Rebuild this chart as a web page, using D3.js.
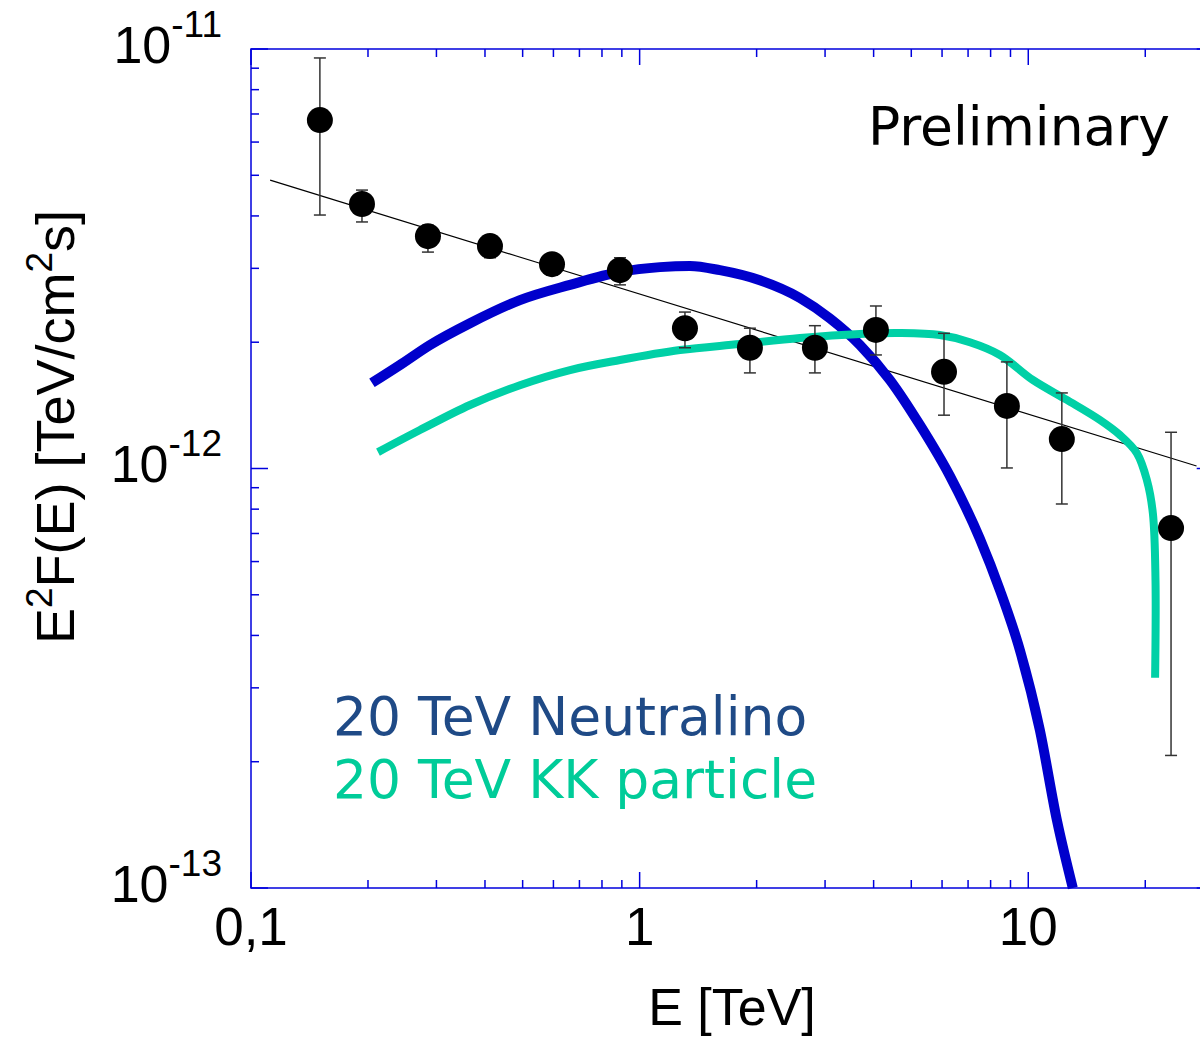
<!DOCTYPE html>
<html>
<head>
<meta charset="utf-8">
<script src="https://cdn.jsdelivr.net/npm/d3@7"></script>
<style>
  html, body { margin: 0; padding: 0; background: #fff; }
  svg { display: block; }
</style>
</head>
<body>
<svg id="chart" width="1200" height="1037"></svg>
<script>
// ---- Data ----
const pointE   = [0.1504, 0.193, 0.2853, 0.412, 0.595, 0.890, 1.308, 1.922, 2.825, 4.055, 6.07, 8.81, 12.2, 23.3];
const pointV   = [6.77e-12, 4.27e-12, 3.58e-12, 3.39e-12, 3.07e-12, 2.97e-12, 2.16e-12, 1.94e-12, 1.94e-12, 2.14e-12, 1.70e-12, 1.41e-12, 1.175e-12, 7.21e-13];
const pointHi  = [9.52e-12, 4.61e-12, 3.80e-12, 3.54e-12, 3.23e-12, 3.18e-12, 2.36e-12, 2.16e-12, 2.19e-12, 2.44e-12, 2.10e-12, 1.795e-12, 1.514e-12, 1.22e-12];
const pointLo  = [4.02e-12, 3.87e-12, 3.28e-12, 3.18e-12, 2.89e-12, 2.74e-12, 1.94e-12, 1.69e-12, 1.69e-12, 1.865e-12, 1.34e-12, 1.003e-12, 8.23e-13, 2.07e-13];

const fitE = [0.112, 27.1];
const fitV = [4.87e-12, 1.014e-12];

const neutralinoE = [0.2048, 0.2417, 0.2888, 0.366, 0.492, 0.662, 0.890, 1.128, 1.347, 1.609, 2.039, 2.585, 3.087, 3.688, 4.405, 5.262, 6.284, 7.507, 8.453, 9.515, 10.71, 11.85, 13.02];
const neutralinoV = [1.60e-12, 1.765e-12, 1.97e-12, 2.22e-12, 2.52e-12, 2.74e-12, 2.94e-12, 3.02e-12, 3.04e-12, 2.97e-12, 2.81e-12, 2.55e-12, 2.28e-12, 1.97e-12, 1.626e-12, 1.27e-12, 9.6e-13, 6.8e-13, 5.13e-13, 3.69e-13, 2.38e-13, 1.45e-13, 1.0e-13];

const kkE = [0.2122, 0.2721, 0.366, 0.492, 0.662, 0.890, 1.27, 1.811, 2.585, 3.688, 4.674, 5.925, 7.074, 8.453, 10.27, 12.57, 15.29, 17.21, 19.03, 20.19, 20.92, 21.25, 21.2];
const kkV = [1.094e-12, 1.235e-12, 1.417e-12, 1.58e-12, 1.717e-12, 1.814e-12, 1.916e-12, 1.98e-12, 2.047e-12, 2.093e-12, 2.104e-12, 2.08e-12, 2.00e-12, 1.865e-12, 1.626e-12, 1.457e-12, 1.305e-12, 1.202e-12, 1.088e-12, 9.39e-13, 7.83e-13, 5.42e-13, 3.17e-13];

const xTickValues = [0.1, 1, 10];
const xTickLabels = ["0,1", "1", "10"];
const yTickValues = [1e-11, 1e-12, 1e-13];
const yTickExps   = ["-11", "-12", "-13"];

const legendLabels = ["20 TeV Neutralino", "20 TeV KK particle"];
const annotation = "Preliminary";

// ---- Layout ----
const svg = d3.select("#chart");
const x = d3.scaleLog().domain([0.1, 30]).range([251, 1213.7]);
const y = d3.scaleLog().domain([1e-13, 1e-11]).range([888, 49]);

const frameColor = "#0000dd";
const axisFont = "'Liberation Sans', Arial, sans-serif";
const textFont = "'DejaVu Sans', Verdana, sans-serif";

// Frame
const [x0, x1] = x.range();
const [yb, yt] = y.range();
svg.append("rect")
  .attr("x", x0).attr("y", yt).attr("width", x1 - x0).attr("height", yb - yt)
  .attr("fill", "none").attr("stroke", frameColor).attr("stroke-width", 1.5);

// Ticks
const xMinor = [];
[0.1, 1, 10].forEach(d => { for (let k = 2; k <= 9; k++) { const v = d * k; if (v < 30) xMinor.push(v); } });
const yMinor = [];
[1e-13, 1e-12].forEach(d => { for (let k = 2; k <= 9; k++) yMinor.push(d * k); });

const tickG = svg.append("g").attr("stroke", frameColor).attr("stroke-width", 1.5);
function xt(v, len) {
  tickG.append("line").attr("x1", x(v)).attr("x2", x(v)).attr("y1", yb).attr("y2", yb - len);
  tickG.append("line").attr("x1", x(v)).attr("x2", x(v)).attr("y1", yt).attr("y2", yt + len);
}
function ytk(v, len) {
  tickG.append("line").attr("x1", x0).attr("x2", x0 + len).attr("y1", y(v)).attr("y2", y(v));
  tickG.append("line").attr("x1", x1).attr("x2", x1 - len).attr("y1", y(v)).attr("y2", y(v));
}
xMinor.forEach(v => xt(v, 8));
xTickValues.forEach(v => xt(v, 16));
yMinor.forEach(v => ytk(v, 8));
yTickValues.forEach(v => ytk(v, 17));

// X tick labels
svg.append("g").selectAll("text").data(xTickValues).join("text")
  .attr("x", d => x(d)).attr("y", 945)
  .attr("text-anchor", "middle")
  .attr("font-family", axisFont).attr("font-size", 53).attr("fill", "#000")
  .text((d, i) => xTickLabels[i]);

// Y tick labels: 10^exp
const yl = svg.append("g").selectAll("text").data(yTickValues).join("text")
  .attr("x", 222).attr("y", d => y(d) + 13.5)
  .attr("text-anchor", "end")
  .attr("font-family", axisFont).attr("font-size", 52).attr("fill", "#000");
yl.append("tspan").text("10");
yl.append("tspan").attr("dy", -26).attr("font-size", 37).text((d, i) => yTickExps[i]);

// Axis titles
svg.append("text")
  .attr("x", 732).attr("y", 1025)
  .attr("text-anchor", "middle")
  .attr("font-family", axisFont).attr("font-size", 52).attr("fill", "#000")
  .text("E [TeV]");

const yt2 = svg.append("text")
  .attr("transform", "translate(74,427) rotate(-90)")
  .attr("text-anchor", "middle")
  .attr("font-family", axisFont).attr("font-size", 54).attr("fill", "#000");
yt2.append("tspan").text("E");
yt2.append("tspan").attr("dy", -22).attr("font-size", 37).text("2");
yt2.append("tspan").attr("dy", 22).text("F(E) [TeV/cm");
yt2.append("tspan").attr("dy", -22).attr("font-size", 37).text("2");
yt2.append("tspan").attr("dy", 22).text("s]");

// Fit line
svg.append("path")
  .datum(fitE.map((e, i) => [e, fitV[i]]))
  .attr("d", d3.line().x(d => x(d[0])).y(d => y(d[1])))
  .attr("fill", "none").attr("stroke", "#000").attr("stroke-width", 1.2);

// Model curves
const smoothX = d3.line().x(d => x(d[0])).y(d => y(d[1])).curve(d3.curveMonotoneX);
const smoothCR = d3.line().x(d => x(d[0])).y(d => y(d[1])).curve(d3.curveCatmullRom.alpha(0.5));
svg.append("path")
  .datum(neutralinoE.map((e, i) => [e, neutralinoV[i]]))
  .attr("d", smoothX)
  .attr("fill", "none").attr("stroke", "#0000cc").attr("stroke-width", 10);

svg.append("path")
  .datum(kkE.map((e, i) => [e, kkV[i]]))
  .attr("d", smoothCR)
  .attr("fill", "none").attr("stroke", "#00d0a6").attr("stroke-width", 8);

// Error bars
const eb = svg.append("g").attr("stroke", "#333").attr("stroke-width", 1.5);
pointE.forEach((e, i) => {
  const cx = x(e);
  eb.append("line").attr("x1", cx).attr("x2", cx).attr("y1", y(pointHi[i])).attr("y2", y(pointLo[i]));
  eb.append("line").attr("x1", cx - 6).attr("x2", cx + 6).attr("y1", y(pointHi[i])).attr("y2", y(pointHi[i]));
  eb.append("line").attr("x1", cx - 6).attr("x2", cx + 6).attr("y1", y(pointLo[i])).attr("y2", y(pointLo[i]));
});

// Points
svg.append("g").selectAll("circle").data(pointE).join("circle")
  .attr("cx", d => x(d)).attr("cy", (d, i) => y(pointV[i]))
  .attr("r", 13).attr("fill", "#000");

// Legend
const legendColors = ["#1f4a86", "#00cc99"];
svg.append("g").selectAll("text").data(legendLabels).join("text")
  .attr("x", 333).attr("y", (d, i) => 735 + i * 63)
  .attr("font-family", textFont).attr("font-size", 53.5)
  .attr("fill", (d, i) => legendColors[i])
  .text(d => d);

svg.append("text")
  .attr("x", 1170).attr("y", 145)
  .attr("text-anchor", "end")
  .attr("font-family", textFont).attr("font-size", 53.5).attr("fill", "#000")
  .text(annotation);
</script>
</body>
</html>
